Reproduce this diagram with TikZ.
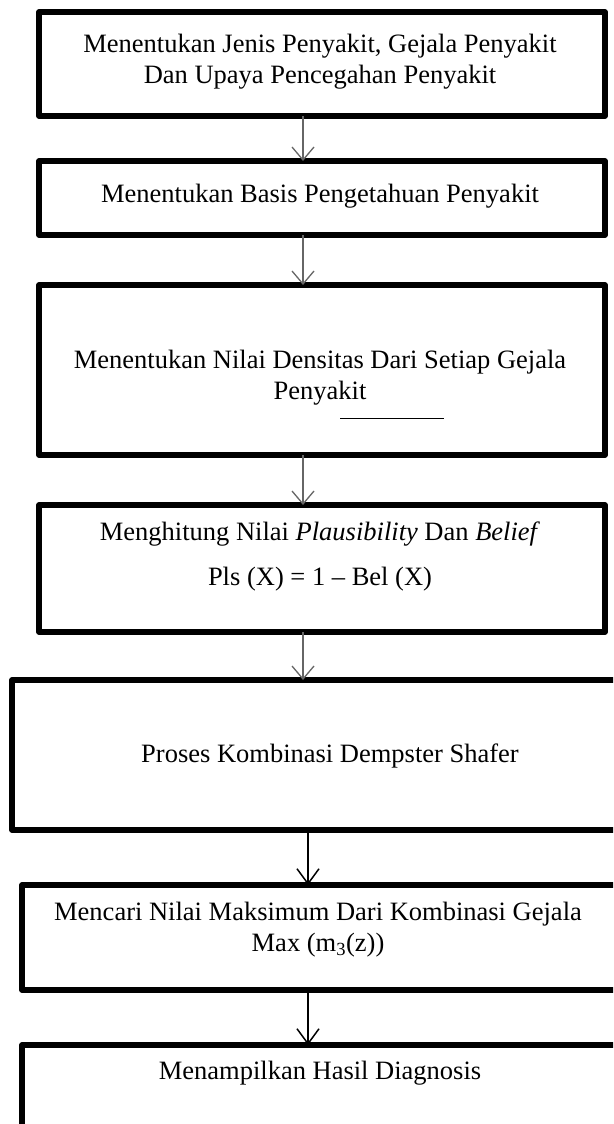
\documentclass[tikz,border=0pt]{standalone}
\usepackage{fontspec}
\setmainfont{Liberation Serif}
\usetikzlibrary{arrows.meta}
\begin{document}
\begin{tikzpicture}[x=1pt,y=-1pt,
  flowbox/.style={draw=black, line width=5.5pt, line join=round, rectangle, inner sep=0pt, outer sep=0pt},
  txt/.style={font=\fontsize{26.5}{31}\selectfont, align=center, inner sep=0pt},
  grayarrow/.style={draw=black!60, line width=1.3pt, -{Straight Barb[length=13pt,width=22pt,line width=1.3pt]}},
  blackarrow/.style={draw=black, line width=1.5pt, -{Straight Barb[length=15pt,width=22pt,line width=1.5pt]}}]
\useasboundingbox (0,0) rectangle (613,1124);
\clip (0,0) rectangle (613,1124);
% boxes
\node[flowbox, minimum width=566pt, minimum height=104pt] (b1) at (322,64) {};
\node[flowbox, minimum width=566pt, minimum height=74pt] (b2) at (322,198) {};
\node[flowbox, minimum width=566pt, minimum height=170pt] (b3) at (322,370) {};
\node[flowbox, minimum width=566pt, minimum height=127pt] (b4) at (322,568.5) {};
\node[flowbox, minimum width=620pt, minimum height=150pt] (b5) at (322,755) {};
\node[flowbox, minimum width=620pt, minimum height=105pt] (b6) at (332,937.5) {};
\node[flowbox, minimum width=620pt, minimum height=140pt] (b7) at (332,1115) {};
% texts
\node[txt] (t1) at (320,62) {Menentukan Jenis Penyakit, Gejala Penyakit\\Dan Upaya Pencegahan Penyakit};
\node[txt] (t2) at (320,196) {Menentukan Basis Pengetahuan Penyakit};
\node[txt] (t3) at (320,378) {Menentukan Nilai Densitas Dari Setiap Gejala\\Penyakit};
\node[txt] (t4a) at (320,534) {Menghitung Nilai \textit{Plausibility} Dan \textit{Belief}};
\node[txt] (t4b) at (320,579) {Pls (X) = 1 – Bel (X)};
\node[txt] (t5) at (330,756) {Proses Kombinasi Dempster Shafer};
\node[txt] (t6) at (318,930) {Mencari Nilai Maksimum Dari Kombinasi Gejala\\Max (m\textsubscript{3}(z))};
\node[txt] (t7) at (320,1073) {Menampilkan Hasil Diagnosis};
% stray line in box 3
\coordinate (l1) at (340,418);
\coordinate (l2) at (444,418);
\draw[line width=1pt] (l1) -- (l2);
% arrow columns
\coordinate (ax) at (303,0);
\coordinate (bx) at (308,0);
\draw[grayarrow] (b1.south -| ax) -- (b2.north -| ax);
\draw[grayarrow] (b2.south -| ax) -- (b3.north -| ax);
\draw[grayarrow] (b3.south -| ax) -- (b4.north -| ax);
\draw[grayarrow] (b4.south -| ax) -- (b5.north -| ax);
\draw[blackarrow] (b5.south -| bx) -- (b6.north -| bx);
\draw[blackarrow] (b6.south -| bx) -- (b7.north -| bx);
\end{tikzpicture}
\end{document}
